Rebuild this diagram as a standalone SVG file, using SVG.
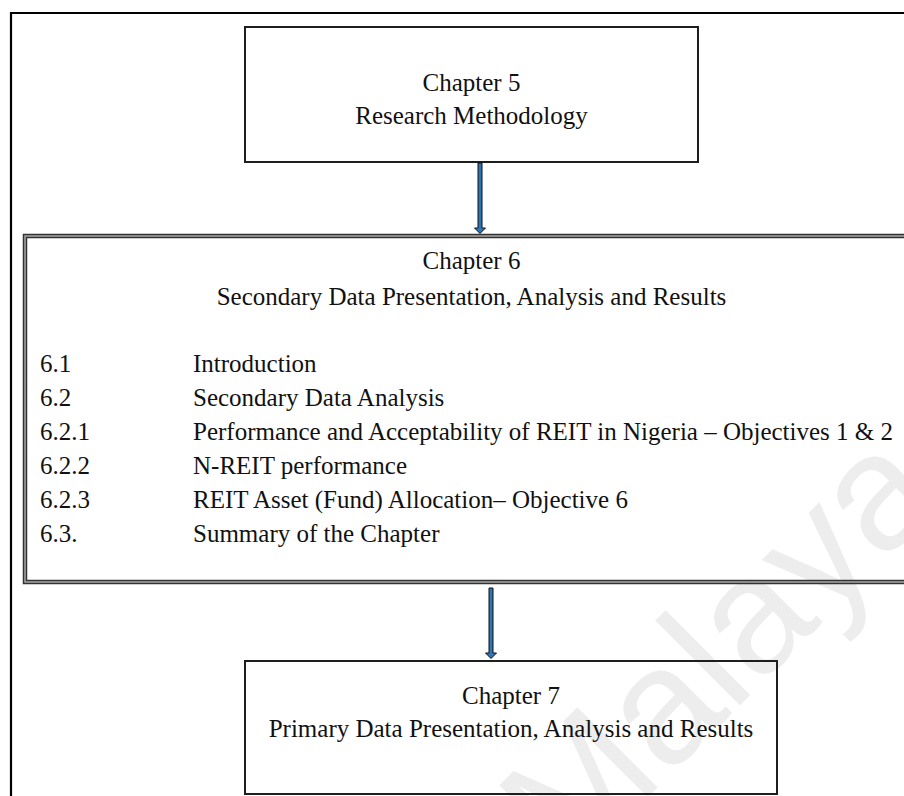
<svg xmlns="http://www.w3.org/2000/svg" width="904" height="796" viewBox="0 0 904 796">
  <style>
    .t { font-family: "Liberation Serif", "Times New Roman", serif; font-size: 25px; fill: #111; }
    .c { text-anchor: middle; }
    .box { fill: none; stroke: #1e1e1e; stroke-width: 2; }
    .arrow { fill: #2e75b6; stroke: #111; stroke-width: 1; stroke-linejoin: miter; }
    .wm { font-family: "Liberation Sans", Arial, sans-serif; font-size: 165px; fill: #ededed; }
  </style>

  <rect x="0" y="0" width="904" height="796" fill="#fff"/>

  <!-- background watermark -->
  <text class="wm" transform="translate(570,875) rotate(-45)">Malaya</text>

  <!-- outer frame -->
  <path d="M11 796 V13 H904" fill="none" stroke="#000" stroke-width="2.2"/>

  <!-- Chapter 5 -->
  <g id="chapter5">
    <rect class="box" x="245" y="27" width="453" height="135"/>
    <text class="t c" x="471.5" y="91">Chapter 5</text>
    <text class="t c" x="471.5" y="124">Research Methodology</text>
  </g>

  <!-- Chapter 6 (double border) -->
  <g id="chapter6">
    <rect x="25" y="236" width="900" height="346" fill="none" stroke="#333" stroke-width="4.5"/>
    <rect x="25" y="236" width="900" height="346" fill="none" stroke="#a8a8a8" stroke-width="1.5"/>
    <text class="t c" x="471.5" y="269">Chapter 6</text>
    <text class="t c" x="471.5" y="305">Secondary Data Presentation, Analysis and Results</text>
    <g class="t">
      <text x="40" y="372">6.1</text>
      <text x="193" y="372">Introduction</text>
      <text x="40" y="406">6.2</text>
      <text x="193" y="406">Secondary Data Analysis</text>
      <text x="40" y="440">6.2.1</text>
      <text x="193" y="440">Performance and Acceptability of REIT in Nigeria – Objectives 1 &amp; 2</text>
      <text x="40" y="474">6.2.2</text>
      <text x="193" y="474">N-REIT performance</text>
      <text x="40" y="508">6.2.3</text>
      <text x="193" y="508">REIT Asset (Fund) Allocation– Objective 6</text>
      <text x="40" y="542">6.3.</text>
      <text x="193" y="542">Summary of the Chapter</text>
    </g>
  </g>

  <!-- Chapter 7 -->
  <g id="chapter7">
    <rect class="box" x="245" y="661" width="532" height="133"/>
    <text class="t c" x="511" y="704">Chapter 7</text>
    <text class="t c" x="511" y="737">Primary Data Presentation, Analysis and Results</text>
  </g>

  <!-- connectors -->
  <g id="connectors">
    <path class="arrow" d="M478 163 H482 V228 H485.5 L480 233.5 L474.5 228 H478 Z"/>
    <path class="arrow" d="M489 588 H493 V653 H496.5 L491 658.5 L485.5 653 H489 Z"/>
  </g>
</svg>
